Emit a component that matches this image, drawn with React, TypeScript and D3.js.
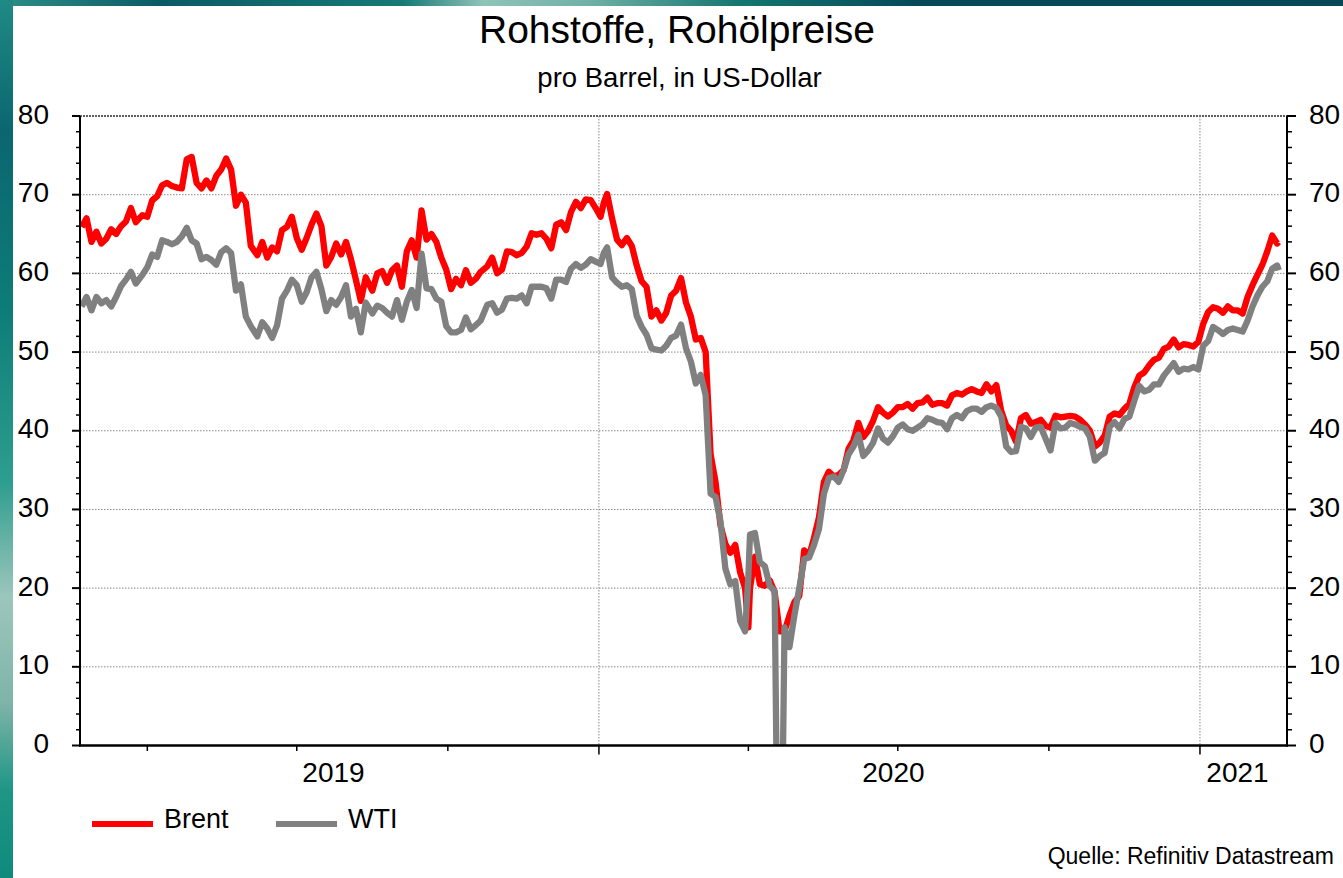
import React from 'react';
import * as d3 from 'd3';

const dates = [
  '2019-02-20','2019-02-23','2019-02-26','2019-03-01','2019-03-04','2019-03-07','2019-03-10','2019-03-13','2019-03-16','2019-03-19',
  '2019-03-22','2019-03-25','2019-03-29','2019-04-01','2019-04-04','2019-04-07','2019-04-10','2019-04-13','2019-04-16','2019-04-19',
  '2019-04-22','2019-04-25','2019-04-28','2019-05-01','2019-05-04','2019-05-07','2019-05-10','2019-05-13','2019-05-16','2019-05-19',
  '2019-05-22','2019-05-25','2019-05-28','2019-05-31','2019-06-03','2019-06-07','2019-06-10','2019-06-13','2019-06-16','2019-06-19',
  '2019-06-22','2019-06-25','2019-06-28','2019-07-01','2019-07-04','2019-07-07','2019-07-10','2019-07-13','2019-07-16','2019-07-19',
  '2019-07-22','2019-07-25','2019-07-28','2019-07-31','2019-08-03','2019-08-06','2019-08-09','2019-08-12','2019-08-16','2019-08-19',
  '2019-08-22','2019-08-25','2019-08-28','2019-08-31','2019-09-03','2019-09-06','2019-09-09','2019-09-12','2019-09-15','2019-09-18',
  '2019-09-21','2019-09-24','2019-09-27','2019-09-30','2019-10-03','2019-10-06','2019-10-09','2019-10-12','2019-10-15','2019-10-18',
  '2019-10-21','2019-10-25','2019-10-28','2019-10-31','2019-11-03','2019-11-06','2019-11-09','2019-11-12','2019-11-15','2019-11-18',
  '2019-11-21','2019-11-24','2019-11-27','2019-11-30','2019-12-03','2019-12-06','2019-12-09','2019-12-12','2019-12-15','2019-12-18',
  '2019-12-21','2019-12-24','2019-12-27','2019-12-30',
  '2020-01-02','2020-01-04','2020-01-06','2020-01-09','2020-01-12','2020-01-15','2020-01-18','2020-01-21','2020-01-24','2020-01-27',
  '2020-01-30','2020-02-02','2020-02-05','2020-02-08','2020-02-11','2020-02-14','2020-02-17','2020-02-20','2020-02-23','2020-02-26',
  '2020-02-29','2020-03-03','2020-03-06','2020-03-09','2020-03-12','2020-03-15','2020-03-18','2020-03-21','2020-03-24','2020-03-27',
  '2020-03-30','2020-04-01','2020-04-02','2020-04-05','2020-04-08','2020-04-11','2020-04-14','2020-04-17','2020-04-20','2020-04-23','2020-04-26',
  '2020-04-29','2020-05-02','2020-05-05','2020-05-08','2020-05-11','2020-05-14','2020-05-17','2020-05-20','2020-05-23','2020-05-26',
  '2020-05-29','2020-06-01','2020-06-04','2020-06-07','2020-06-10','2020-06-13','2020-06-16','2020-06-19','2020-06-22','2020-06-25',
  '2020-06-28','2020-07-01','2020-07-04','2020-07-07','2020-07-10','2020-07-13','2020-07-16','2020-07-19','2020-07-22','2020-07-25',
  '2020-07-28','2020-07-31','2020-08-03','2020-08-06','2020-08-09','2020-08-12','2020-08-15','2020-08-18','2020-08-21','2020-08-24',
  '2020-08-27','2020-08-30','2020-09-02','2020-09-05','2020-09-08','2020-09-11','2020-09-14','2020-09-17','2020-09-20','2020-09-23',
  '2020-09-26','2020-09-29','2020-10-02','2020-10-05','2020-10-08','2020-10-11','2020-10-14','2020-10-17','2020-10-20','2020-10-23',
  '2020-10-26','2020-10-29','2020-11-01','2020-11-04','2020-11-07','2020-11-10','2020-11-13','2020-11-16','2020-11-19','2020-11-22',
  '2020-11-25','2020-11-28','2020-12-01','2020-12-04','2020-12-07','2020-12-10','2020-12-13','2020-12-16','2020-12-19','2020-12-22',
  '2020-12-25','2020-12-28','2020-12-31',
  '2021-01-03','2021-01-06','2021-01-09','2021-01-12','2021-01-15','2021-01-18','2021-01-21','2021-01-24','2021-01-27','2021-01-30',
  '2021-02-02','2021-02-05','2021-02-08','2021-02-11','2021-02-14','2021-02-17','2021-02-18'
];

const brent = [
  65.9,67.0,64.0,65.3,63.8,64.4,65.6,65.0,66.0,66.6,
  68.3,66.5,67.4,67.2,69.3,69.8,71.2,71.5,71.1,70.9,
  70.8,74.5,74.8,71.5,70.8,71.8,70.8,72.4,73.2,74.6,
  73.2,68.6,70.0,69.0,63.5,62.3,64.0,62.0,63.3,62.8,
  65.5,65.9,67.2,64.5,63.0,64.5,66.2,67.6,66.0,61.0,
  62.1,63.8,62.4,64.0,61.8,59.2,56.5,59.5,57.8,60.0,
  60.3,58.8,60.4,61.0,58.3,62.8,64.2,62.0,68.0,64.3,
  65.0,64.0,62.0,60.5,58.0,59.3,58.5,60.4,58.8,59.3,
  60.2,60.9,62.0,60.0,60.5,62.8,62.7,62.3,62.6,63.4,
  65.1,64.9,65.1,64.4,63.2,66.2,66.5,65.5,67.8,69.1,
  68.3,69.4,69.3,68.3,
  67.2,69.0,70.1,67.0,64.3,63.6,64.5,63.5,61.0,59.0,
  58.3,54.5,55.3,54.0,55.0,57.2,57.8,59.4,56.3,54.5,
  51.6,51.8,50.0,37.0,33.5,28.0,25.6,24.5,25.5,22.0,
  20.0,15.0,20.0,24.0,20.5,20.3,21.0,19.5,14.5,14.5,16.5,
  18.2,19.0,24.8,24.1,26.4,29.0,33.5,34.8,34.2,34.4,
  35.0,37.7,38.8,41.0,39.2,40.0,41.3,43.0,42.3,41.8,
  42.3,43.0,43.0,43.4,42.8,43.5,43.6,44.2,43.3,43.5,
  43.5,43.2,44.5,44.8,44.6,45.0,45.3,45.0,44.8,45.9,
  45.0,45.8,42.5,40.7,40.0,38.6,41.6,42.0,40.9,41.1,
  41.4,40.6,40.4,41.9,41.7,41.8,41.9,41.8,41.4,40.8,
  40.0,38.0,38.5,39.4,41.8,42.2,42.0,42.8,43.4,45.5,
  47.0,47.4,48.3,49.0,49.3,50.4,50.7,51.6,50.6,51.0,
  50.9,50.7,51.3,
  53.6,55.1,55.7,55.5,55.0,55.8,55.3,55.3,54.9,57.0,
  58.5,59.8,61.1,62.8,64.8,63.8,64.0
];

const wti = [
  55.8,57.0,55.3,57.0,56.2,56.6,55.8,57.0,58.4,59.2,
  60.2,58.7,59.8,60.8,62.4,62.1,64.2,64.0,63.7,64.0,
  64.7,65.8,64.2,63.8,61.8,62.1,61.7,61.1,62.7,63.2,
  62.6,57.8,58.6,54.5,53.3,52.0,53.8,53.0,51.8,53.4,
  56.8,57.8,59.2,58.5,56.4,57.6,59.5,60.2,58.0,55.2,
  56.6,56.0,57.0,58.5,54.5,55.5,52.5,56.3,54.9,55.9,
  55.6,55.0,54.5,56.6,54.1,56.4,57.9,55.6,62.5,58.1,
  58.0,56.8,56.4,53.3,52.5,52.5,52.8,54.4,52.9,53.4,
  54.0,56.0,56.2,55.0,55.4,56.8,56.9,56.8,57.2,56.2,
  58.3,58.3,58.3,58.1,56.8,59.2,59.2,58.9,60.6,61.2,
  60.7,61.1,61.8,61.5,
  61.2,62.6,63.3,59.5,58.8,58.3,58.5,58.0,54.6,53.2,
  52.2,50.5,50.3,50.2,50.8,51.8,52.1,53.5,50.5,48.8,
  46.0,47.1,44.5,32.0,31.6,28.5,22.5,20.5,20.9,15.8,
  14.5,21.5,26.8,27.0,23.3,22.8,20.3,19.6,-37.6,15.0,12.5,
  16.5,20.0,23.7,23.9,25.5,27.5,32.0,34.0,34.2,33.5,
  35.0,37.0,38.0,39.5,36.8,37.5,38.5,40.3,39.0,38.5,
  39.3,40.4,40.8,40.2,40.0,40.4,40.8,41.6,41.4,41.1,
  41.0,40.2,41.6,42.0,41.6,42.5,42.8,42.8,42.4,43.0,
  43.2,42.9,41.8,38.0,37.3,37.4,40.5,40.3,39.2,40.4,
  40.5,39.0,37.5,41.0,40.3,40.4,41.0,40.8,40.5,40.3,
  39.2,36.2,36.8,37.2,40.5,41.1,40.3,41.5,41.8,43.8,
  45.7,45.0,45.2,45.9,45.9,47.0,47.8,48.6,47.5,47.9,
  47.8,48.1,47.8,
  50.8,51.4,53.2,52.8,52.3,52.8,53.0,52.8,52.6,54.0,
  55.8,57.2,58.3,59.0,60.6,61.0,60.4
];

const yearLabels = ['2019', '2020', '2021'];
const yTicks = [0, 10, 20, 30, 40, 50, 60, 70, 80];
const seriesNames = ['Brent', 'WTI'];
const seriesColors = ['#ff0000', '#808080'];

const FONT = "'Liberation Sans', Arial, Helvetica, sans-serif";

export default function App() {
  const W = 1343, H = 878;
  const left = 80, right = 1287, top = 116, bottom = 745.5;
  const parse = d3.timeParse('%Y-%m-%d');
  const start = parse('2019-02-19') as Date;
  const end = parse('2021-02-23') as Date;
  const x = d3.scaleTime().domain([start, end]).range([left, right]);
  const y = d3.scaleLinear().domain([0, 80]).range([bottom, top]);
  const pts = dates.map((d) => parse(d) as Date);

  const mkLine = (vals: number[]) =>
    d3.line<number>().x((_, i) => x(pts[i])).y((v) => y(v))(vals) || '';

  const minorY = d3.range(0, 81, 2).filter((v) => v % 10 !== 0);
  const quarterTicks = d3.timeMonth.every(3)!.range(start, end).filter((d) => d.getMonth() !== 0);
  const yearTicks = d3.timeYear.range(start, end);
  const yearStarts = [d3.timeYear.floor(start), ...yearTicks];

  return (
    <svg width={W} height={H} style={{ position: 'absolute', left: 0, top: 0, display: 'block' }} fontFamily={FONT}>
      <defs>
        <linearGradient id="topStrip" x1="0" x2="1" y1="0" y2="0">
          <stop offset="0" stopColor="#2e8f88" />
          <stop offset="0.12" stopColor="#0b5a66" />
          <stop offset="0.3" stopColor="#167a76" />
          <stop offset="0.36" stopColor="#8fc3b8" />
          <stop offset="0.44" stopColor="#6fb0a6" />
          <stop offset="0.55" stopColor="#147670" />
          <stop offset="0.68" stopColor="#064a5a" />
          <stop offset="1" stopColor="#064858" />
        </linearGradient>
        <linearGradient id="leftStrip" x1="0" x2="0" y1="0" y2="1">
          <stop offset="0" stopColor="#1f8a84" />
          <stop offset="0.15" stopColor="#0b6670" />
          <stop offset="0.35" stopColor="#0d7c78" />
          <stop offset="0.55" stopColor="#2e9e8e" />
          <stop offset="0.68" stopColor="#9cc6bc" />
          <stop offset="0.8" stopColor="#7fb4a8" />
          <stop offset="0.9" stopColor="#1e9686" />
          <stop offset="1" stopColor="#0f8a7c" />
        </linearGradient>
        <clipPath id="plotClip">
          <rect x={left} y={top - 10} width={right - left} height={bottom - top + 10} />
        </clipPath>
      </defs>

      <rect x={0} y={0} width={W} height={H} fill="#ffffff" />
      <rect x={0} y={0} width={W} height={6} fill="url(#topStrip)" />
      <rect x={0} y={0} width={13} height={H} fill="url(#leftStrip)" />

      {/* title */}
      <text x={677} y={43} textAnchor="middle" fontSize={39} fill="#000">Rohstoffe, Rohölpreise</text>
      <text x={679.5} y={87} textAnchor="middle" fontSize={27.5} fill="#000">pro Barrel, in US-Dollar</text>

      {/* horizontal grid */}
      {yTicks.filter((v) => v > 0 && v < 80).map((v) => (
        <line key={'g' + v} x1={left} x2={right} y1={y(v)} y2={y(v)} stroke="#8a8a8a" strokeWidth={1} strokeDasharray="1.5,1.5" />
      ))}
      <line x1={left} x2={right} y1={y(80)} y2={y(80)} stroke="#2a2a2a" strokeWidth={1.6} strokeDasharray="2,1" />
      {/* vertical grid at year starts */}
      {yearTicks.map((d, i) => (
        <line key={'vg' + i} x1={x(d)} x2={x(d)} y1={top} y2={bottom} stroke="#8a8a8a" strokeWidth={1} strokeDasharray="1.5,1.5" />
      ))}

      {/* series */}
      <g clipPath="url(#plotClip)" fill="none" strokeLinejoin="round" strokeLinecap="butt">
        <path d={mkLine(brent)} stroke={seriesColors[0]} strokeWidth={6.3} />
        <path d={mkLine(wti)} stroke={seriesColors[1]} strokeWidth={6.3} />
      </g>

      {/* axes */}
      <line x1={left} x2={left} y1={top} y2={bottom + 1} stroke="#000" strokeWidth={2} />
      <line x1={right} x2={right} y1={top} y2={bottom + 1} stroke="#000" strokeWidth={2} />
      <line x1={left - 1} x2={right + 1} y1={bottom} y2={bottom} stroke="#000" strokeWidth={2.5} />

      {/* y ticks */}
      {yTicks.map((v) => (
        <g key={'yt' + v}>
          <line x1={left - 8} x2={left} y1={y(v)} y2={y(v)} stroke="#000" strokeWidth={2} />
          <line x1={right} x2={right + 9} y1={y(v)} y2={y(v)} stroke="#000" strokeWidth={2} />
          <text x={49} y={y(v) + 7.5} textAnchor="end" fontSize={28} fill="#000">{v}</text>
          <text x={1309} y={y(v) + 7.5} textAnchor="start" fontSize={28} fill="#000">{v}</text>
        </g>
      ))}
      {minorY.map((v) => (
        <g key={'ym' + v}>
          <line x1={left - 4} x2={left} y1={y(v)} y2={y(v)} stroke="#000" strokeWidth={1.5} />
          <line x1={right} x2={right + 5} y1={y(v)} y2={y(v)} stroke="#000" strokeWidth={1.5} />
        </g>
      ))}

      {/* x ticks */}
      {quarterTicks.map((d, i) => (
        <line key={'qt' + i} x1={x(d)} x2={x(d)} y1={bottom} y2={bottom + 5.5} stroke="#000" strokeWidth={1.5} />
      ))}
      {yearTicks.map((d, i) => (
        <line key={'yt2' + i} x1={x(d)} x2={x(d)} y1={bottom} y2={bottom + 9} stroke="#000" strokeWidth={1.5} />
      ))}
      {yearLabels.map((lab, i) => {
        const s = Math.max(x(yearStarts[i]), left);
        const e = Math.min(x(d3.timeYear.offset(yearStarts[i], 1)), right);
        return (
          <text key={'yl' + lab} x={(s + e) / 2 - 6} y={782} textAnchor="middle" fontSize={28} fill="#000">{lab}</text>
        );
      })}

      {/* legend */}
      {seriesNames.map((n, i) => (
        <g key={'lg' + n}>
          <line x1={92 + i * 184} x2={153 + i * 184} y1={824} y2={824} stroke={seriesColors[i]} strokeWidth={6} />
          <text x={164 + i * 184} y={828} fontSize={27} fill="#000">{n}</text>
        </g>
      ))}

      <text x={1334} y={864} textAnchor="end" fontSize={23} fill="#000">Quelle: Refinitiv Datastream</text>
    </svg>
  );
}
